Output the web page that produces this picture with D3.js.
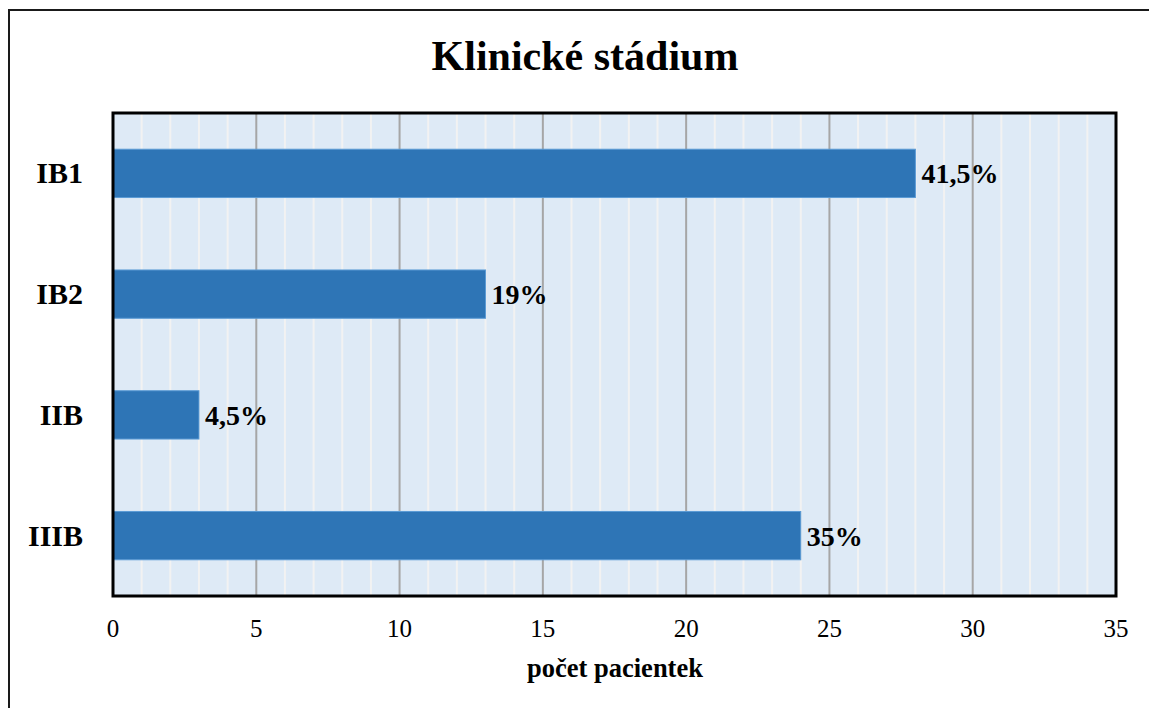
<!DOCTYPE html>
<html>
<head>
<meta charset="utf-8">
<script src="https://cdn.jsdelivr.net/npm/d3@7"></script>
<style>
html,body{margin:0;padding:0;background:#fff;}
svg{display:block;}
text{font-family:"Liberation Serif","Times New Roman",serif;}
</style>
</head>
<body>
<svg id="chart" width="1149" height="708"></svg>
<script>
const categories = ["IB1", "IB2", "IIB", "IIIB"];
const values = [28, 13, 3, 24];
const valueLabels = ["41,5%", "19%", "4,5%", "35%"];
const xTicks = [0, 5, 10, 15, 20, 25, 30, 35];
const minorTicks = d3.range(0, 36, 1);
const titleText = "Klinické stádium";
const xAxisTitle = "počet pacientek";

const svg = d3.select("#chart");
const W = 1149, H = 708;
const pLeft = 113, pRight = 1116, pTop = 113, pBottom = 596;

// outer border
svg.append("rect")
  .attr("x", 9).attr("y", 10).attr("width", W + 20).attr("height", H + 20)
  .attr("fill", "#fff").attr("stroke", "#1a1a1a").attr("stroke-width", 2);

const x = d3.scaleLinear().domain([0, 35]).range([pLeft, pRight]);
const y = d3.scaleBand().domain(categories).range([pTop, pBottom]).paddingInner(0.6).paddingOuter(0.3);

// plot background
svg.append("rect")
  .attr("x", pLeft).attr("y", pTop).attr("width", pRight - pLeft).attr("height", pBottom - pTop)
  .attr("fill", "#deeaf6");

// minor gridlines
svg.append("g").selectAll("line")
  .data(minorTicks.filter(d => d % 5 !== 0))
  .join("line")
  .attr("x1", d => x(d)).attr("x2", d => x(d))
  .attr("y1", pTop).attr("y2", pBottom)
  .attr("stroke", "#f2f2f2").attr("stroke-width", 2);

// major gridlines
svg.append("g").selectAll("line")
  .data(xTicks.filter(d => d > 0 && d < 35))
  .join("line")
  .attr("x1", d => x(d)).attr("x2", d => x(d))
  .attr("y1", pTop).attr("y2", pBottom)
  .attr("stroke", "#a6a6a6").attr("stroke-width", 2);

// bars
svg.append("g").selectAll("rect")
  .data(categories)
  .join("rect")
  .attr("x", x(0))
  .attr("y", d => y(d))
  .attr("width", (d, i) => x(values[i]) - x(0))
  .attr("height", y.bandwidth())
  .attr("fill", "#2e75b6")
  .attr("stroke", "#5b9bd5").attr("stroke-width", 1);

// value labels
svg.append("g").selectAll("text")
  .data(categories)
  .join("text")
  .attr("x", (d, i) => x(values[i]) + 6)
  .attr("y", d => y(d) + y.bandwidth() / 2 + 10)
  .attr("font-size", 28).attr("font-weight", "bold").attr("fill", "#000")
  .text((d, i) => valueLabels[i]);

// frame
svg.append("rect")
  .attr("x", pLeft).attr("y", pTop).attr("width", pRight - pLeft).attr("height", pBottom - pTop)
  .attr("fill", "none").attr("stroke", "#000").attr("stroke-width", 3);

// category labels
svg.append("g").selectAll("text")
  .data(categories)
  .join("text")
  .attr("x", 83)
  .attr("y", d => y(d) + y.bandwidth() / 2 + 10)
  .attr("text-anchor", "end")
  .attr("font-size", 30).attr("font-weight", "bold").attr("fill", "#000")
  .text(d => d);

// x tick labels
svg.append("g").selectAll("text")
  .data(xTicks)
  .join("text")
  .attr("x", d => x(d))
  .attr("y", 637)
  .attr("text-anchor", "middle")
  .attr("font-size", 25).attr("fill", "#000")
  .text(d => d);

// axis title
svg.append("text")
  .attr("x", 615).attr("y", 677)
  .attr("text-anchor", "middle")
  .attr("font-size", 26.5).attr("font-weight", "bold").attr("fill", "#000")
  .text(xAxisTitle);

// title
svg.append("text")
  .attr("x", 585).attr("y", 70)
  .attr("text-anchor", "middle")
  .attr("font-size", 42).attr("font-weight", "bold").attr("fill", "#000")
  .text(titleText);
</script>
</body>
</html>
